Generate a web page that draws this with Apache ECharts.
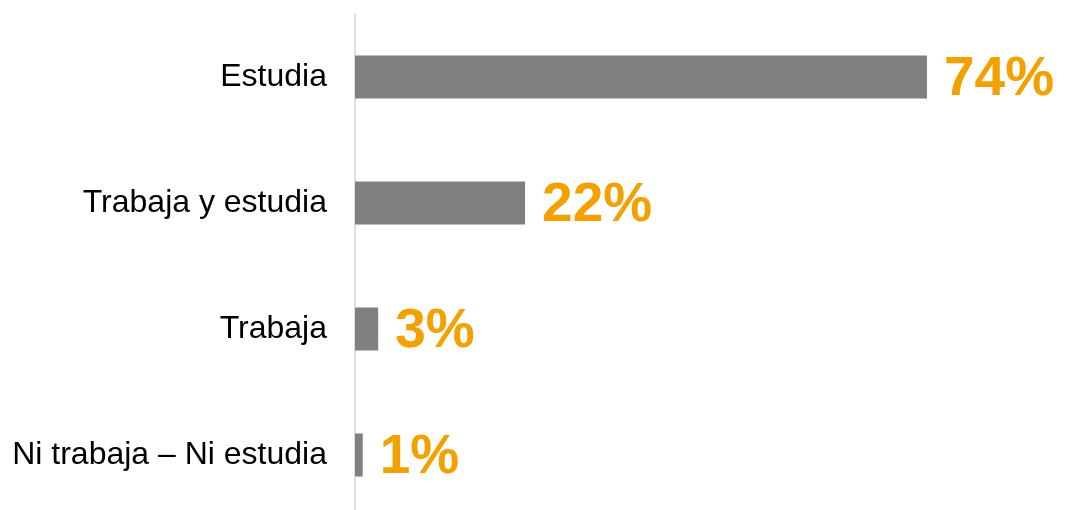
<!DOCTYPE html>
<html>
<head>
<meta charset="utf-8">
<script src="https://cdn.jsdelivr.net/npm/echarts@6/dist/echarts.min.js"></script>
<style>html,body{margin:0;padding:0;background:#fff;}#c{width:1065px;height:510px;}</style>
</head>
<body>
<div id="c"></div>
<script>
const categories = ['Estudia', 'Trabaja y estudia', 'Trabaja', 'Ni trabaja – Ni estudia'];
const values = [74, 22, 3, 1];

const chart = echarts.init(document.getElementById('c'), null, {renderer: 'canvas'});
chart.setOption({
  animation: false,
  backgroundColor: '#ffffff',
  grid: {left: 355, top: 14, width: 773, height: 504, outerBoundsMode: 'none', containLabel: false},
  xAxis: {type: 'value', min: 0, max: 100, show: false},
  yAxis: {
    type: 'category',
    data: categories,
    inverse: true,
    axisLine: {show: true, lineStyle: {color: '#d4d4d4', width: 1.5}},
    axisTick: {show: false},
    axisLabel: {color: '#000000', fontSize: 32, fontFamily: 'Liberation Sans, Arial, sans-serif', margin: 28}
  },
  series: [{
    type: 'bar',
    data: values,
    barWidth: 43,
    itemStyle: {color: '#808080'},
    label: {
      show: true,
      position: 'right',
      distance: 17,
      offset: [0, 3],
      formatter: '{c}%',
      color: '#F2A100',
      fontSize: 55,
      fontWeight: 'bold',
      fontFamily: 'Liberation Sans, Arial, sans-serif'
    }
  }]
});
</script>
</body>
</html>
